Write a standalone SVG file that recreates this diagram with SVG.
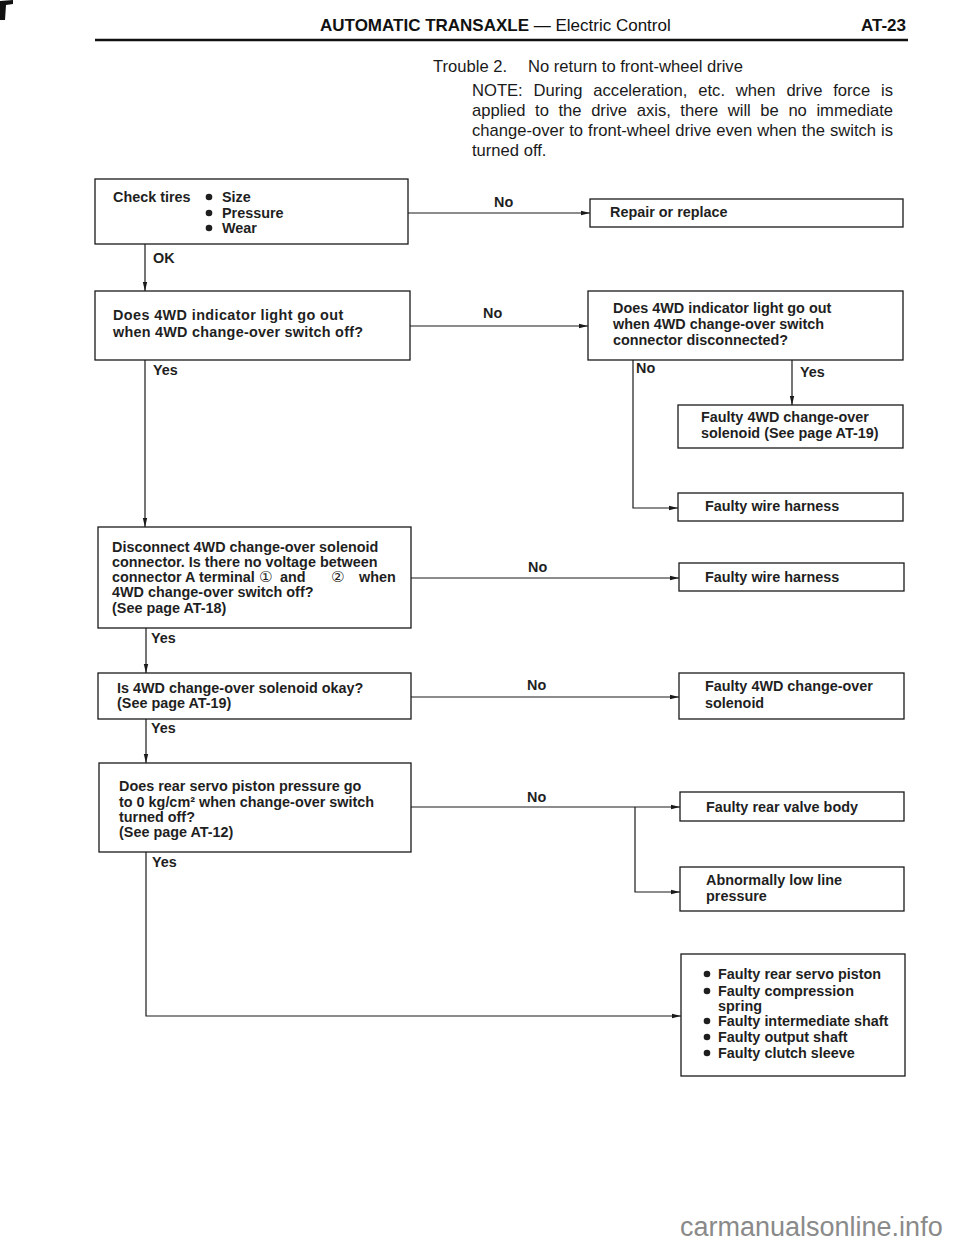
<svg xmlns="http://www.w3.org/2000/svg" width="960" height="1242" viewBox="0 0 960 1242">
<style>
.bx{fill:#fff;stroke:#1a1a1a;stroke-width:1.3}
.ln{fill:none;stroke:#1a1a1a;stroke-width:1.2}
.b{font-family:"Liberation Sans",Arial,"DejaVu Sans","Noto Sans CJK JP",sans-serif;font-weight:bold;font-size:14.4px;fill:#1f1f1f}
.dot{fill:#1f1f1f}
.cd{font-size:15px;font-weight:normal}
.n{font-family:"Liberation Sans",Arial,sans-serif;font-size:16.6px;fill:#1a1a1a}
.h{font-family:"Liberation Sans",Arial,sans-serif;font-size:17px;fill:#111}
.wm{font-family:"Liberation Sans",Arial,sans-serif;font-size:27px;fill:#8a8a8a}
</style>
<defs>
<marker id="ah" viewBox="0 0 9 6" refX="9" refY="3" markerWidth="9" markerHeight="6" markerUnits="userSpaceOnUse" orient="auto">
<path d="M0,0.8 L9,3 L0,5.2 Z" fill="#1a1a1a"/>
</marker>
</defs>
<rect width="960" height="1242" fill="#fff"/>
<g id="page-header">
<path d="M0,1 L13,0 L13,4 L6,5 L5,20 L0,20 Z" fill="#111"/>
<text class="h" x="320" y="31"><tspan font-weight="bold">AUTOMATIC TRANSAXLE</tspan> — Electric Control</text>
<text class="h" x="906" y="31" text-anchor="end" font-weight="bold">AT-23</text>
<line x1="95" y1="40" x2="908" y2="40" stroke="#111" stroke-width="2.6"/>
<text class="n" x="433" y="72">Trouble 2.<tspan x="528">No return to front-wheel drive</tspan></text>
<text class="n" x="472" y="96" word-spacing="6.25">NOTE: During acceleration, etc. when drive force is</text>
<text class="n" x="472" y="116" word-spacing="4.96">applied to the drive axis, there will be no immediate</text>
<text class="n" x="472" y="136" word-spacing="0.4">change-over to front-wheel drive even when the switch is</text>
<text class="n" x="472" y="156">turned off.</text>
</g>
<g id="connectors">
<line class="ln" x1="145" y1="244" x2="145" y2="291" marker-end="url(#ah)"/>
<line class="ln" x1="408" y1="213" x2="590" y2="213" marker-end="url(#ah)"/>
<line class="ln" x1="410" y1="326" x2="588" y2="326" marker-end="url(#ah)"/>
<line class="ln" x1="145" y1="360" x2="145" y2="527" marker-end="url(#ah)"/>
<line class="ln" x1="792" y1="360" x2="792" y2="405" marker-end="url(#ah)"/>
<polyline class="ln" points="633,360 633,508 678,508" marker-end="url(#ah)"/>
<line class="ln" x1="411" y1="578" x2="679" y2="578" marker-end="url(#ah)"/>
<line class="ln" x1="146" y1="628" x2="146" y2="673" marker-end="url(#ah)"/>
<line class="ln" x1="411" y1="697" x2="679" y2="697" marker-end="url(#ah)"/>
<line class="ln" x1="146" y1="719" x2="146" y2="763" marker-end="url(#ah)"/>
<line class="ln" x1="411" y1="807" x2="680" y2="807" marker-end="url(#ah)"/>
<polyline class="ln" points="635,807 635,892 680,892" marker-end="url(#ah)"/>
<polyline class="ln" points="146,852 146,1016 681,1016" marker-end="url(#ah)"/>
<text class="b" x="153" y="263">OK</text>
<text class="b" x="494" y="207">No</text>
<text class="b" x="153" y="375">Yes</text>
<text class="b" x="483" y="318">No</text>
<text class="b" x="636" y="373">No</text>
<text class="b" x="800" y="377">Yes</text>
<text class="b" x="528" y="572">No</text>
<text class="b" x="151" y="643">Yes</text>
<text class="b" x="527" y="690">No</text>
<text class="b" x="151" y="733">Yes</text>
<text class="b" x="527" y="802">No</text>
<text class="b" x="152" y="867">Yes</text>
</g>
<g id="n-check-tires">
<rect class="bx" x="95" y="179" width="313" height="65"/>
<text class="b" x="113" y="202">Check tires</text>
<circle class="dot" cx="209" cy="197" r="3.3"/>
<circle class="dot" cx="209" cy="213" r="3.3"/>
<circle class="dot" cx="209" cy="228" r="3.3"/>
<text class="b" x="222" y="202">Size</text>
<text class="b" x="222" y="218">Pressure</text>
<text class="b" x="222" y="233">Wear</text>
</g>
<g id="n-repair">
<rect class="bx" x="590" y="199" width="313" height="28"/>
<text class="b" x="610" y="217">Repair or replace</text>
</g>
<g id="n-indicator">
<rect class="bx" x="95" y="291" width="315" height="69"/>
<text class="b" x="113" y="320" letter-spacing="0.4">Does 4WD indicator light go out</text>
<text class="b" x="113" y="337" letter-spacing="0.25">when 4WD change-over switch off?</text>
</g>
<g id="n-connector">
<rect class="bx" x="588" y="291" width="315" height="69"/>
<text class="b" x="613" y="313">Does 4WD indicator light go out</text>
<text class="b" x="613" y="329">when 4WD change-over switch</text>
<text class="b" x="613" y="345">connector disconnected?</text>
</g>
<g id="n-solenoid-1">
<rect class="bx" x="678" y="405" width="225" height="43"/>
<text class="b" x="701" y="422">Faulty 4WD change-over</text>
<text class="b" x="701" y="438">solenoid (See page AT-19)</text>
</g>
<g id="n-harness-1">
<rect class="bx" x="678" y="493" width="225" height="28"/>
<text class="b" x="705" y="511">Faulty wire harness</text>
</g>
<g id="n-voltage">
<rect class="bx" x="98" y="527" width="313" height="101"/>
<text class="b" x="112" y="552">Disconnect 4WD change-over solenoid</text>
<text class="b" x="112" y="567">connector. Is there no voltage between</text>
<text class="b" x="112" y="582">connector A terminal<tspan class="cd" x="259">①</tspan><tspan x="280">and</tspan><tspan class="cd" x="331">②</tspan><tspan x="359">when</tspan></text>
<text class="b" x="112" y="597">4WD change-over switch off?</text>
<text class="b" x="112" y="613">(See page AT-18)</text>
</g>
<g id="n-harness-2">
<rect class="bx" x="679" y="563" width="225" height="28"/>
<text class="b" x="705" y="582">Faulty wire harness</text>
</g>
<g id="n-solenoid-ok">
<rect class="bx" x="98" y="673" width="313" height="46"/>
<text class="b" x="117" y="693">Is 4WD change-over solenoid okay?</text>
<text class="b" x="117" y="708">(See page AT-19)</text>
</g>
<g id="n-solenoid-2">
<rect class="bx" x="679" y="673" width="225" height="46"/>
<text class="b" x="705" y="691">Faulty 4WD change-over</text>
<text class="b" x="705" y="708">solenoid</text>
</g>
<g id="n-servo">
<rect class="bx" x="99" y="763" width="312" height="89"/>
<text class="b" x="119" y="791">Does rear servo piston pressure go</text>
<text class="b" x="119" y="807">to 0 kg/cm² when change-over switch</text>
<text class="b" x="119" y="822">turned off?</text>
<text class="b" x="119" y="837">(See page AT-12)</text>
</g>
<g id="n-valve-body">
<rect class="bx" x="680" y="792" width="224" height="29"/>
<text class="b" x="706" y="812">Faulty rear valve body</text>
</g>
<g id="n-line-pressure">
<rect class="bx" x="680" y="867" width="224" height="44"/>
<text class="b" x="706" y="885">Abnormally low line</text>
<text class="b" x="706" y="901">pressure</text>
</g>
<g id="n-faults">
<rect class="bx" x="681" y="954" width="224" height="122"/>
<circle class="dot" cx="707" cy="974" r="3.3"/>
<circle class="dot" cx="707" cy="991" r="3.3"/>
<circle class="dot" cx="707" cy="1021" r="3.3"/>
<circle class="dot" cx="707" cy="1037" r="3.3"/>
<circle class="dot" cx="707" cy="1053" r="3.3"/>
<text class="b" x="718" y="979">Faulty rear servo piston</text>
<text class="b" x="718" y="996">Faulty compression</text>
<text class="b" x="718" y="1011">spring</text>
<text class="b" x="718" y="1026">Faulty intermediate shaft</text>
<text class="b" x="718" y="1042">Faulty output shaft</text>
<text class="b" x="718" y="1058">Faulty clutch sleeve</text>
</g>
<g id="watermark">
<text class="wm" x="680" y="1236">carmanualsonline.info</text>
</g>
</svg>
